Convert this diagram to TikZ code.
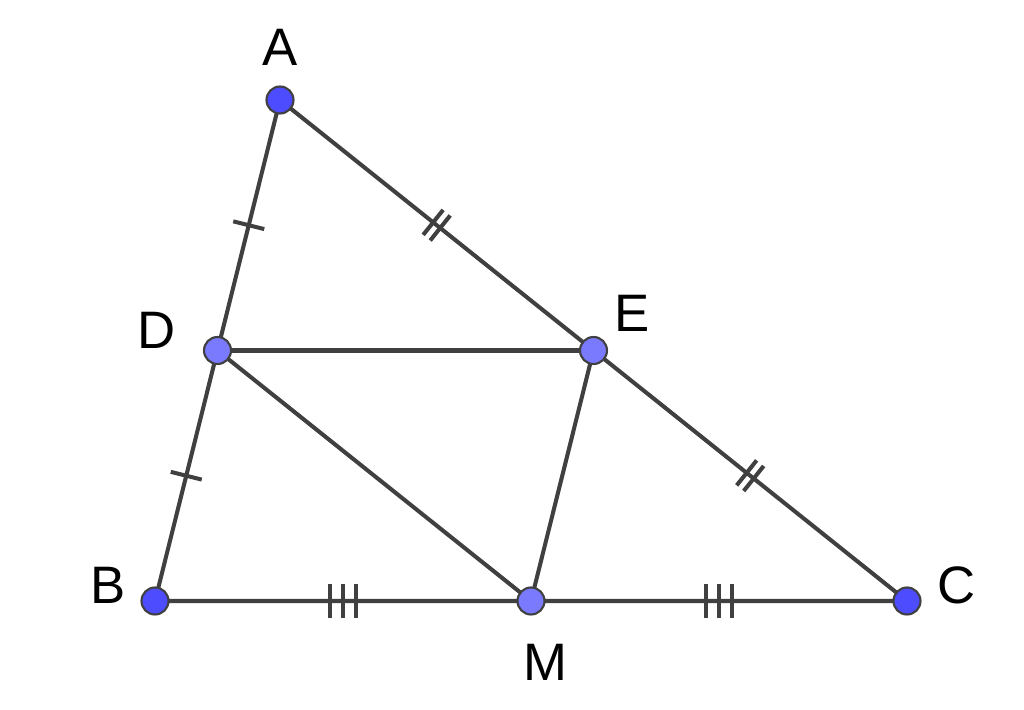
\documentclass[tikz,border=0pt]{standalone}
\usepackage{fontspec}
\setmainfont{Liberation Sans}
\usetikzlibrary{calc,decorations.markings}

\definecolor{seggray}{RGB}{64,64,64}
\definecolor{ptdark}{RGB}{77,77,255}
\definecolor{ptlight}{RGB}{122,122,255}

\tikzset{
    seg/.style={draw=seggray, line width=1.15pt},
    tickone/.style={postaction={decorate, decoration={markings,
        mark=at position 0.5 with {\draw[seggray, line width=1.15pt] (0,-0.16) -- (0,0.16);}}}},
    ticktwo/.style={postaction={decorate, decoration={markings,
        mark=at position 0.5 with {\draw[seggray, line width=1.15pt] (-0.045,-0.16) -- (-0.045,0.16) (0.045,-0.16) -- (0.045,0.16);}}}},
    tickthree/.style={postaction={decorate, decoration={markings,
        mark=at position 0.5 with {\draw[seggray, line width=1.15pt] (-0.13,-0.17) -- (-0.13,0.17) (0,-0.17) -- (0,0.17) (0.13,-0.17) -- (0.13,0.17);}}}},
    pt/.style={circle, draw=black!75, line width=0.6pt, fill=ptdark, minimum size=0.27cm, inner sep=0pt},
    midpt/.style={pt, fill=ptlight},
    lbl/.style={font=\fontsize{15}{18}\selectfont, text=black}
}

\begin{document}
\begin{tikzpicture}
    \useasboundingbox (0,0) rectangle (10.24,7.10);

    % Vertices
    \coordinate (A) at (2.80,6.10);
    \coordinate (B) at (1.55,1.09);
    \coordinate (C) at (9.07,1.09);

    % Midpoints
    \coordinate (D) at ($(A)!0.5!(B)$);
    \coordinate (E) at ($(A)!0.5!(C)$);
    \coordinate (M) at ($(B)!0.5!(C)$);

    % Sides with equal marks
    \path[seg, tickone] (A) -- (D);
    \path[seg, tickone] (D) -- (B);
    \path[seg, ticktwo] (A) -- (E);
    \path[seg, ticktwo] (E) -- (C);
    \path[seg, tickthree] (B) -- (M);
    \path[seg, tickthree] (M) -- (C);

    % Inner segments
    \draw[seg] (D) -- (E);
    \draw[seg] (D) -- (M);
    \draw[seg] (E) -- (M);

    % Points
    \node[pt] (pA) at (A) {};
    \node[pt] (pB) at (B) {};
    \node[pt] (pC) at (C) {};
    \node[midpt] (pD) at (D) {};
    \node[midpt] (pE) at (E) {};
    \node[midpt] (pM) at (M) {};

    % Labels
    \node[lbl] (lA) at (2.80,6.63) {A};
    \node[lbl] (lB) at (1.08,1.25) {B};
    \node[lbl] (lC) at (9.57,1.25) {C};
    \node[lbl] (lD) at (1.57,3.80) {D};
    \node[lbl] (lE) at (6.32,3.97) {E};
    \node[lbl] (lM) at (5.45,0.48) {M};
\end{tikzpicture}
\end{document}
